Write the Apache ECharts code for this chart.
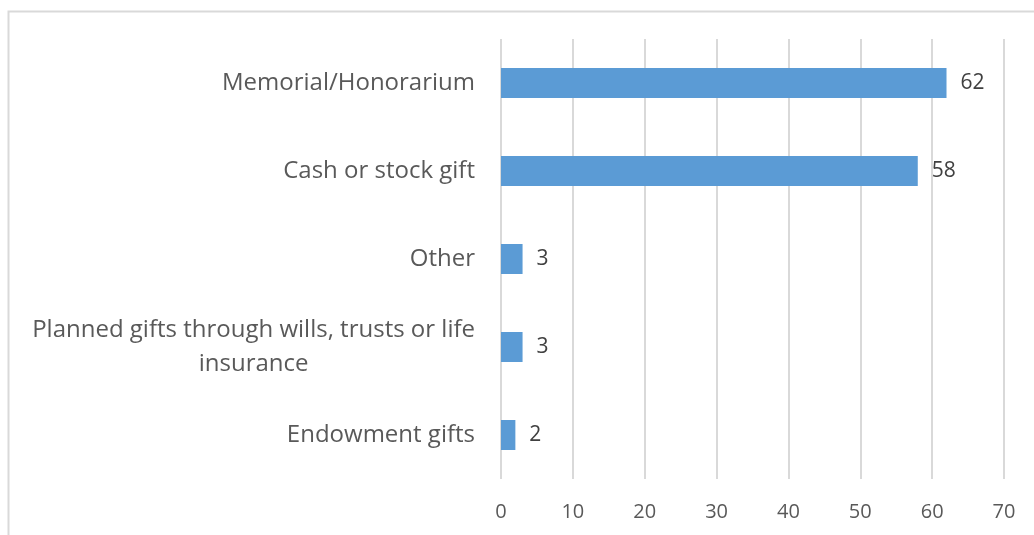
<!DOCTYPE html>
<html>
<head>
<meta charset="utf-8">
<script src="https://cdn.jsdelivr.net/npm/echarts@6/dist/echarts.min.js"></script>
<style>
  html, body { margin: 0; padding: 0; background: #fff; }
  #chart { width: 1034px; height: 535px; }
</style>
</head>
<body>
<div id="chart"></div>
<script>
// data, top to bottom
var categories = [
    'Memorial/Honorarium',
    'Cash or stock gift',
    'Other',
    'Planned gifts through wills, trusts or life\ninsurance',
    'Endowment gifts'
];
var values = [62, 58, 3, 3, 2];
var xTicks = { min: 0, max: 70, step: 10 };

var myChart = echarts.init(document.getElementById('chart'));
var font = '"Open Sans", "Noto Sans", sans-serif';

var option = {
    animation: false,
    backgroundColor: '#fff',
    graphic: [
        {
            type: 'rect',
            left: 6,
            top: 9,
            shape: { width: 1100, height: 600 },
            style: { fill: 'none', stroke: '#d9d9d9', lineWidth: 2 },
            silent: true
        }
    ],
    grid: {
        left: 501,
        right: 30,
        top: 39,
        bottom: 56
    },
    xAxis: {
        type: 'value',
        min: xTicks.min,
        max: xTicks.max,
        interval: xTicks.step,
        axisLine: { show: false },
        axisTick: { show: false },
        axisLabel: {
            color: '#595959',
            fontSize: 20,
            fontFamily: font,
            margin: 23
        },
        splitLine: {
            lineStyle: { color: '#d9d9d9', width: 2 }
        }
    },
    yAxis: {
        type: 'category',
        inverse: true,
        data: categories,
        axisLine: { show: false },
        axisTick: { show: false },
        axisLabel: {
            margin: 26,
            formatter: function (v) {
                return v.split('\n').map(function (s) { return '{c|' + s + '}'; }).join('\n');
            },
            rich: {
                c: {
                    align: 'center',
                    color: '#595959',
                    fontSize: 24,
                    lineHeight: 34,
                    fontFamily: font
                }
            }
        }
    },
    series: [
        {
            type: 'bar',
            data: values,
            barWidth: 30,
            itemStyle: { color: '#5b9bd5' },
            label: {
                show: true,
                position: 'right',
                distance: 14,
                color: '#404040',
                fontSize: 21,
                fontFamily: font
            }
        }
    ]
};

myChart.setOption(option);
</script>
</body>
</html>
